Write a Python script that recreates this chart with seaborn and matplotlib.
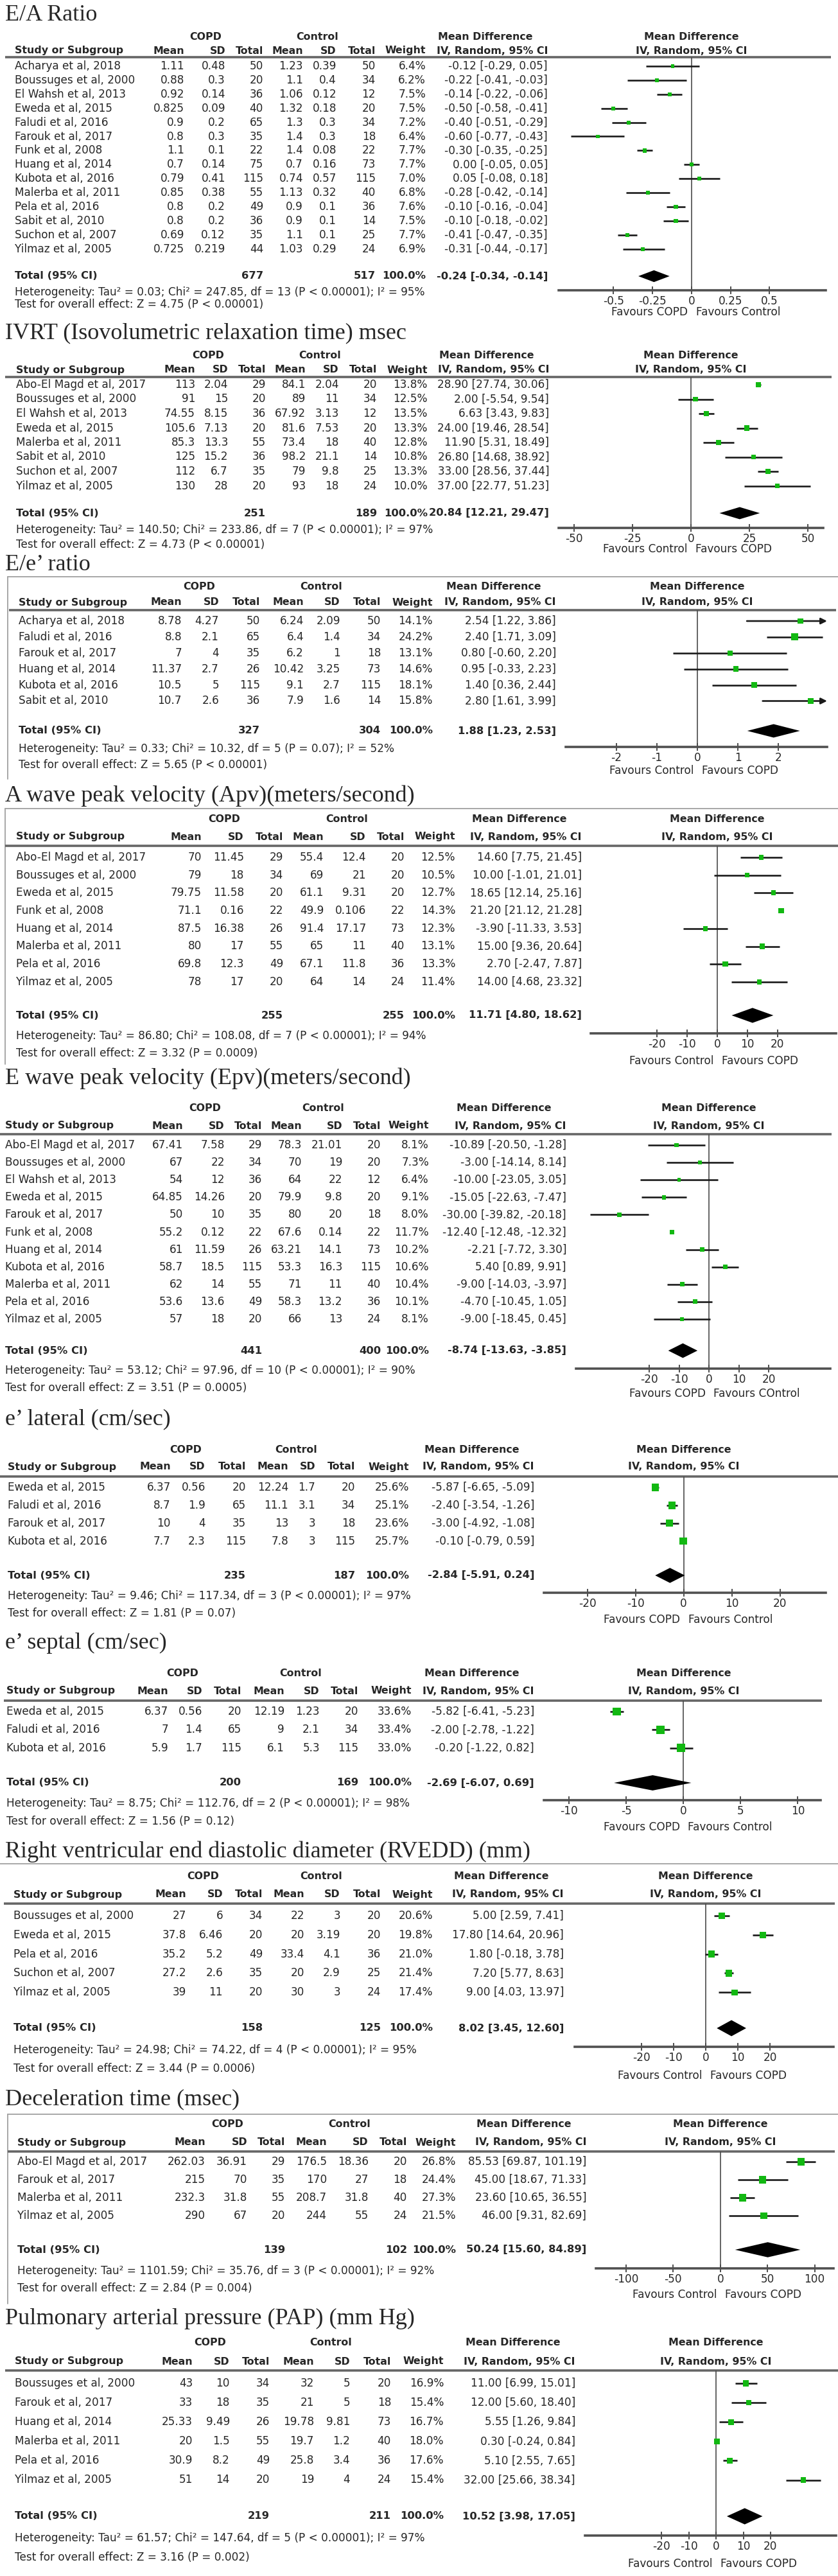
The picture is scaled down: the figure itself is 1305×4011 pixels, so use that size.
import numpy as np
import pandas as pd
import matplotlib
matplotlib.use("Agg")
import matplotlib.pyplot as plt
import seaborn as sns

# ============================ DATA ============================
# ---- E/A ratio ----
EA_TITLE = "E/A Ratio"
EA_STUDY = ["Acharya et al, 2018", "Boussuges et al, 2000", "El Wahsh et al, 2013", "Eweda et al, 2015",
            "Faludi et al, 2016", "Farouk et al, 2017", "Funk et al, 2008", "Huang et al, 2014",
            "Kubota et al, 2016", "Malerba et al, 2011", "Pela et al, 2016", "Sabit et al, 2010",
            "Suchon et al, 2007", "Yilmaz et al, 2005"]
EA_COPD_MEAN = [1.11, 0.88, 0.92, 0.825, 0.9, 0.8, 1.1, 0.7, 0.79, 0.85, 0.8, 0.8, 0.69, 0.725]
EA_COPD_SD = [0.48, 0.3, 0.14, 0.09, 0.2, 0.3, 0.1, 0.14, 0.41, 0.38, 0.2, 0.2, 0.12, 0.219]
EA_COPD_N = [50, 20, 36, 40, 65, 35, 22, 75, 115, 55, 49, 36, 35, 44]
EA_CTRL_MEAN = [1.23, 1.1, 1.06, 1.32, 1.3, 1.4, 1.4, 0.7, 0.74, 1.13, 0.9, 0.9, 1.1, 1.03]
EA_CTRL_SD = [0.39, 0.4, 0.12, 0.18, 0.3, 0.3, 0.08, 0.16, 0.57, 0.32, 0.1, 0.1, 0.1, 0.29]
EA_CTRL_N = [50, 34, 12, 20, 34, 18, 22, 73, 115, 40, 36, 14, 25, 24]
EA_WEIGHT = [6.4, 6.2, 7.5, 7.5, 7.2, 6.4, 7.7, 7.7, 7.0, 6.8, 7.6, 7.5, 7.7, 6.9]
EA_MD = [-0.12, -0.22, -0.14, -0.50, -0.40, -0.60, -0.30, 0.00, 0.05, -0.28, -0.10, -0.10, -0.41, -0.31]
EA_LO = [-0.29, -0.41, -0.22, -0.58, -0.51, -0.77, -0.35, -0.05, -0.08, -0.42, -0.16, -0.18, -0.47, -0.44]
EA_HI = [0.05, -0.03, -0.06, -0.41, -0.29, -0.43, -0.25, 0.05, 0.18, -0.14, -0.04, -0.02, -0.35, -0.17]
EA_TOTAL = [-0.24, -0.34, -0.14]
EA_HET = "Heterogeneity: Tau² = 0.03; Chi² = 247.85, df = 13 (P < 0.00001); I² = 95%"
EA_TEST = "Test for overall effect: Z = 4.75 (P < 0.00001)"
EA_TICKS = [-0.5, -0.25, 0, 0.25, 0.5]
EA_FAVOURS = ["Favours COPD", "Favours Control"]

# ---- IVRT ----
IV_TITLE = "IVRT (Isovolumetric relaxation time) msec"
IV_STUDY = ["Abo-El Magd et al, 2017", "Boussuges et al, 2000", "El Wahsh et al, 2013", "Eweda et al, 2015",
            "Malerba et al, 2011", "Sabit et al, 2010", "Suchon et al, 2007", "Yilmaz et al, 2005"]
IV_COPD_MEAN = [113, 91, 74.55, 105.6, 85.3, 125, 112, 130]
IV_COPD_SD = [2.04, 15, 8.15, 7.13, 13.3, 15.2, 6.7, 28]
IV_COPD_N = [29, 20, 36, 20, 55, 36, 35, 20]
IV_CTRL_MEAN = [84.1, 89, 67.92, 81.6, 73.4, 98.2, 79, 93]
IV_CTRL_SD = [2.04, 11, 3.13, 7.53, 18, 21.1, 9.8, 18]
IV_CTRL_N = [20, 34, 12, 20, 40, 14, 25, 24]
IV_WEIGHT = [13.8, 12.5, 13.5, 13.3, 12.8, 10.8, 13.3, 10.0]
IV_MD = [28.90, 2.00, 6.63, 24.00, 11.90, 26.80, 33.00, 37.00]
IV_LO = [27.74, -5.54, 3.43, 19.46, 5.31, 14.68, 28.56, 22.77]
IV_HI = [30.06, 9.54, 9.83, 28.54, 18.49, 38.92, 37.44, 51.23]
IV_TOTAL = [20.84, 12.21, 29.47]
IV_HET = "Heterogeneity: Tau² = 140.50; Chi² = 233.86, df = 7 (P < 0.00001); I² = 97%"
IV_TEST = "Test for overall effect: Z = 4.73 (P < 0.00001)"
IV_TICKS = [-50, -25, 0, 25, 50]
IV_FAVOURS = ["Favours Control", "Favours COPD"]

# ---- E/e' ratio ----
EE_TITLE = "E/e’ ratio"
EE_STUDY = ["Acharya et al, 2018", "Faludi et al, 2016", "Farouk et al, 2017", "Huang et al, 2014",
            "Kubota et al, 2016", "Sabit et al, 2010"]
EE_COPD_MEAN = [8.78, 8.8, 7, 11.37, 10.5, 10.7]
EE_COPD_SD = [4.27, 2.1, 4, 2.7, 5, 2.6]
EE_COPD_N = [50, 65, 35, 26, 115, 36]
EE_CTRL_MEAN = [6.24, 6.4, 6.2, 10.42, 9.1, 7.9]
EE_CTRL_SD = [2.09, 1.4, 1, 3.25, 2.7, 1.6]
EE_CTRL_N = [50, 34, 18, 73, 115, 14]
EE_WEIGHT = [14.1, 24.2, 13.1, 14.6, 18.1, 15.8]
EE_MD = [2.54, 2.40, 0.80, 0.95, 1.40, 2.80]
EE_LO = [1.22, 1.71, -0.60, -0.33, 0.36, 1.61]
EE_HI = [3.86, 3.09, 2.20, 2.23, 2.44, 3.99]
EE_TOTAL = [1.88, 1.23, 2.53]
EE_HET = "Heterogeneity: Tau² = 0.33; Chi² = 10.32, df = 5 (P = 0.07); I² = 52%"
EE_TEST = "Test for overall effect: Z = 5.65 (P < 0.00001)"
EE_TICKS = [-2, -1, 0, 1, 2]
EE_FAVOURS = ["Favours Control", "Favours COPD"]

# ---- A wave peak velocity ----
AP_TITLE = "A wave peak velocity (Apv)(meters/second)"
AP_STUDY = ["Abo-El Magd et al, 2017", "Boussuges et al, 2000", "Eweda et al, 2015", "Funk et al, 2008",
            "Huang et al, 2014", "Malerba et al, 2011", "Pela et al, 2016", "Yilmaz et al, 2005"]
AP_COPD_MEAN = [70, 79, 79.75, 71.1, 87.5, 80, 69.8, 78]
AP_COPD_SD = [11.45, 18, 11.58, 0.16, 16.38, 17, 12.3, 17]
AP_COPD_N = [29, 34, 20, 22, 26, 55, 49, 20]
AP_CTRL_MEAN = [55.4, 69, 61.1, 49.9, 91.4, 65, 67.1, 64]
AP_CTRL_SD = [12.4, 21, 9.31, 0.106, 17.17, 11, 11.8, 14]
AP_CTRL_N = [20, 20, 20, 22, 73, 40, 36, 24]
AP_WEIGHT = [12.5, 10.5, 12.7, 14.3, 12.3, 13.1, 13.3, 11.4]
AP_MD = [14.60, 10.00, 18.65, 21.20, -3.90, 15.00, 2.70, 14.00]
AP_LO = [7.75, -1.01, 12.14, 21.12, -11.33, 9.36, -2.47, 4.68]
AP_HI = [21.45, 21.01, 25.16, 21.28, 3.53, 20.64, 7.87, 23.32]
AP_TOTAL = [11.71, 4.80, 18.62]
AP_HET = "Heterogeneity: Tau² = 86.80; Chi² = 108.08, df = 7 (P < 0.00001); I² = 94%"
AP_TEST = "Test for overall effect: Z = 3.32 (P = 0.0009)"
AP_TICKS = [-20, -10, 0, 10, 20]
AP_FAVOURS = ["Favours Control", "Favours COPD"]

# ---- E wave peak velocity ----
EP_TITLE = "E wave peak velocity (Epv)(meters/second)"
EP_STUDY = ["Abo-El Magd et al, 2017", "Boussuges et al, 2000", "El Wahsh et al, 2013", "Eweda et al, 2015",
            "Farouk et al, 2017", "Funk et al, 2008", "Huang et al, 2014", "Kubota et al, 2016",
            "Malerba et al, 2011", "Pela et al, 2016", "Yilmaz et al, 2005"]
EP_COPD_MEAN = [67.41, 67, 54, 64.85, 50, 55.2, 61, 58.7, 62, 53.6, 57]
EP_COPD_SD = [7.58, 22, 12, 14.26, 10, 0.12, 11.59, 18.5, 14, 13.6, 18]
EP_COPD_N = [29, 34, 36, 20, 35, 22, 26, 115, 55, 49, 20]
EP_CTRL_MEAN = [78.3, 70, 64, 79.9, 80, 67.6, 63.21, 53.3, 71, 58.3, 66]
EP_CTRL_SD = [21.01, 19, 22, 9.8, 20, 0.14, 14.1, 16.3, 11, 13.2, 13]
EP_CTRL_N = [20, 20, 12, 20, 18, 22, 73, 115, 40, 36, 24]
EP_WEIGHT = [8.1, 7.3, 6.4, 9.1, 8.0, 11.7, 10.2, 10.6, 10.4, 10.1, 8.1]
EP_MD = [-10.89, -3.00, -10.00, -15.05, -30.00, -12.40, -2.21, 5.40, -9.00, -4.70, -9.00]
EP_LO = [-20.50, -14.14, -23.05, -22.63, -39.82, -12.48, -7.72, 0.89, -14.03, -10.45, -18.45]
EP_HI = [-1.28, 8.14, 3.05, -7.47, -20.18, -12.32, 3.30, 9.91, -3.97, 1.05, 0.45]
EP_TOTAL = [-8.74, -13.63, -3.85]
EP_HET = "Heterogeneity: Tau² = 53.12; Chi² = 97.96, df = 10 (P < 0.00001); I² = 90%"
EP_TEST = "Test for overall effect: Z = 3.51 (P = 0.0005)"
EP_TICKS = [-20, -10, 0, 10, 20]
EP_FAVOURS = ["Favours COPD", "Favours COntrol"]

# ---- e' lateral ----
LA_TITLE = "e’ lateral (cm/sec)"
LA_STUDY = ["Eweda et al, 2015", "Faludi et al, 2016", "Farouk et al, 2017", "Kubota et al, 2016"]
LA_COPD_MEAN = [6.37, 8.7, 10, 7.7]
LA_COPD_SD = [0.56, 1.9, 4, 2.3]
LA_COPD_N = [20, 65, 35, 115]
LA_CTRL_MEAN = [12.24, 11.1, 13, 7.8]
LA_CTRL_SD = [1.7, 3.1, 3, 3]
LA_CTRL_N = [20, 34, 18, 115]
LA_WEIGHT = [25.6, 25.1, 23.6, 25.7]
LA_MD = [-5.87, -2.40, -3.00, -0.10]
LA_LO = [-6.65, -3.54, -4.92, -0.79]
LA_HI = [-5.09, -1.26, -1.08, 0.59]
LA_TOTAL = [-2.84, -5.91, 0.24]
LA_HET = "Heterogeneity: Tau² = 9.46; Chi² = 117.34, df = 3 (P < 0.00001); I² = 97%"
LA_TEST = "Test for overall effect: Z = 1.81 (P = 0.07)"
LA_TICKS = [-20, -10, 0, 10, 20]
LA_FAVOURS = ["Favours COPD", "Favours Control"]

# ---- e' septal ----
SE_TITLE = "e’ septal (cm/sec)"
SE_STUDY = ["Eweda et al, 2015", "Faludi et al, 2016", "Kubota et al, 2016"]
SE_COPD_MEAN = [6.37, 7, 5.9]
SE_COPD_SD = [0.56, 1.4, 1.7]
SE_COPD_N = [20, 65, 115]
SE_CTRL_MEAN = [12.19, 9, 6.1]
SE_CTRL_SD = [1.23, 2.1, 5.3]
SE_CTRL_N = [20, 34, 115]
SE_WEIGHT = [33.6, 33.4, 33.0]
SE_MD = [-5.82, -2.00, -0.20]
SE_LO = [-6.41, -2.78, -1.22]
SE_HI = [-5.23, -1.22, 0.82]
SE_TOTAL = [-2.69, -6.07, 0.69]
SE_HET = "Heterogeneity: Tau² = 8.75; Chi² = 112.76, df = 2 (P < 0.00001); I² = 98%"
SE_TEST = "Test for overall effect: Z = 1.56 (P = 0.12)"
SE_TICKS = [-10, -5, 0, 5, 10]
SE_FAVOURS = ["Favours COPD", "Favours Control"]

# ---- RVEDD ----
RV_TITLE = "Right ventricular end diastolic diameter (RVEDD) (mm)"
RV_STUDY = ["Boussuges et al, 2000", "Eweda et al, 2015", "Pela et al, 2016", "Suchon et al, 2007",
            "Yilmaz et al, 2005"]
RV_COPD_MEAN = [27, 37.8, 35.2, 27.2, 39]
RV_COPD_SD = [6, 6.46, 5.2, 2.6, 11]
RV_COPD_N = [34, 20, 49, 35, 20]
RV_CTRL_MEAN = [22, 20, 33.4, 20, 30]
RV_CTRL_SD = [3, 3.19, 4.1, 2.9, 3]
RV_CTRL_N = [20, 20, 36, 25, 24]
RV_WEIGHT = [20.6, 19.8, 21.0, 21.4, 17.4]
RV_MD = [5.00, 17.80, 1.80, 7.20, 9.00]
RV_LO = [2.59, 14.64, -0.18, 5.77, 4.03]
RV_HI = [7.41, 20.96, 3.78, 8.63, 13.97]
RV_TOTAL = [8.02, 3.45, 12.60]
RV_HET = "Heterogeneity: Tau² = 24.98; Chi² = 74.22, df = 4 (P < 0.00001); I² = 95%"
RV_TEST = "Test for overall effect: Z = 3.44 (P = 0.0006)"
RV_TICKS = [-20, -10, 0, 10, 20]
RV_FAVOURS = ["Favours Control", "Favours COPD"]

# ---- Deceleration time ----
DT_TITLE = "Deceleration time (msec)"
DT_STUDY = ["Abo-El Magd et al, 2017", "Farouk et al, 2017", "Malerba et al, 2011", "Yilmaz et al, 2005"]
DT_COPD_MEAN = [262.03, 215, 232.3, 290]
DT_COPD_SD = [36.91, 70, 31.8, 67]
DT_COPD_N = [29, 35, 55, 20]
DT_CTRL_MEAN = [176.5, 170, 208.7, 244]
DT_CTRL_SD = [18.36, 27, 31.8, 55]
DT_CTRL_N = [20, 18, 40, 24]
DT_WEIGHT = [26.8, 24.4, 27.3, 21.5]
DT_MD = [85.53, 45.00, 23.60, 46.00]
DT_LO = [69.87, 18.67, 10.65, 9.31]
DT_HI = [101.19, 71.33, 36.55, 82.69]
DT_TOTAL = [50.24, 15.60, 84.89]
DT_HET = "Heterogeneity: Tau² = 1101.59; Chi² = 35.76, df = 3 (P < 0.00001); I² = 92%"
DT_TEST = "Test for overall effect: Z = 2.84 (P = 0.004)"
DT_TICKS = [-100, -50, 0, 50, 100]
DT_FAVOURS = ["Favours Control", "Favours COPD"]

# ---- PAP ----
PA_TITLE = "Pulmonary arterial pressure (PAP) (mm Hg)"
PA_STUDY = ["Boussuges et al, 2000", "Farouk et al, 2017", "Huang et al, 2014", "Malerba et al, 2011",
            "Pela et al, 2016", "Yilmaz et al, 2005"]
PA_COPD_MEAN = [43, 33, 25.33, 20, 30.9, 51]
PA_COPD_SD = [10, 18, 9.49, 1.5, 8.2, 14]
PA_COPD_N = [34, 35, 26, 55, 49, 20]
PA_CTRL_MEAN = [32, 21, 19.78, 19.7, 25.8, 19]
PA_CTRL_SD = [5, 5, 9.81, 1.2, 3.4, 4]
PA_CTRL_N = [20, 18, 73, 40, 36, 24]
PA_WEIGHT = [16.9, 15.4, 16.7, 18.0, 17.6, 15.4]
PA_MD = [11.00, 12.00, 5.55, 0.30, 5.10, 32.00]
PA_LO = [6.99, 5.60, 1.26, -0.24, 2.55, 25.66]
PA_HI = [15.01, 18.40, 9.84, 0.84, 7.65, 38.34]
PA_TOTAL = [10.52, 3.98, 17.05]
PA_HET = "Heterogeneity: Tau² = 61.57; Chi² = 147.64, df = 5 (P < 0.00001); I² = 97%"
PA_TEST = "Test for overall effect: Z = 3.16 (P = 0.002)"
PA_TICKS = [-20, -10, 0, 10, 20]
PA_FAVOURS = ["Favours Control", "Favours COPD"]


def panel(title, study, cm, cs, cn, km, ks, kn, w, md, lo, hi, total, het, test, ticks, fav):
    return dict(title=title, study=study, cm=cm, cs=cs, cn=cn, km=km, ks=ks, kn=kn, w=w,
                md=md, lo=lo, hi=hi, total=total, het=het, test=test, ticks=ticks, fav=fav)


PANELS = [
    panel(EA_TITLE, EA_STUDY, EA_COPD_MEAN, EA_COPD_SD, EA_COPD_N, EA_CTRL_MEAN, EA_CTRL_SD, EA_CTRL_N,
          EA_WEIGHT, EA_MD, EA_LO, EA_HI, EA_TOTAL, EA_HET, EA_TEST, EA_TICKS, EA_FAVOURS),
    panel(IV_TITLE, IV_STUDY, IV_COPD_MEAN, IV_COPD_SD, IV_COPD_N, IV_CTRL_MEAN, IV_CTRL_SD, IV_CTRL_N,
          IV_WEIGHT, IV_MD, IV_LO, IV_HI, IV_TOTAL, IV_HET, IV_TEST, IV_TICKS, IV_FAVOURS),
    panel(EE_TITLE, EE_STUDY, EE_COPD_MEAN, EE_COPD_SD, EE_COPD_N, EE_CTRL_MEAN, EE_CTRL_SD, EE_CTRL_N,
          EE_WEIGHT, EE_MD, EE_LO, EE_HI, EE_TOTAL, EE_HET, EE_TEST, EE_TICKS, EE_FAVOURS),
    panel(AP_TITLE, AP_STUDY, AP_COPD_MEAN, AP_COPD_SD, AP_COPD_N, AP_CTRL_MEAN, AP_CTRL_SD, AP_CTRL_N,
          AP_WEIGHT, AP_MD, AP_LO, AP_HI, AP_TOTAL, AP_HET, AP_TEST, AP_TICKS, AP_FAVOURS),
    panel(EP_TITLE, EP_STUDY, EP_COPD_MEAN, EP_COPD_SD, EP_COPD_N, EP_CTRL_MEAN, EP_CTRL_SD, EP_CTRL_N,
          EP_WEIGHT, EP_MD, EP_LO, EP_HI, EP_TOTAL, EP_HET, EP_TEST, EP_TICKS, EP_FAVOURS),
    panel(LA_TITLE, LA_STUDY, LA_COPD_MEAN, LA_COPD_SD, LA_COPD_N, LA_CTRL_MEAN, LA_CTRL_SD, LA_CTRL_N,
          LA_WEIGHT, LA_MD, LA_LO, LA_HI, LA_TOTAL, LA_HET, LA_TEST, LA_TICKS, LA_FAVOURS),
    panel(SE_TITLE, SE_STUDY, SE_COPD_MEAN, SE_COPD_SD, SE_COPD_N, SE_CTRL_MEAN, SE_CTRL_SD, SE_CTRL_N,
          SE_WEIGHT, SE_MD, SE_LO, SE_HI, SE_TOTAL, SE_HET, SE_TEST, SE_TICKS, SE_FAVOURS),
    panel(RV_TITLE, RV_STUDY, RV_COPD_MEAN, RV_COPD_SD, RV_COPD_N, RV_CTRL_MEAN, RV_CTRL_SD, RV_CTRL_N,
          RV_WEIGHT, RV_MD, RV_LO, RV_HI, RV_TOTAL, RV_HET, RV_TEST, RV_TICKS, RV_FAVOURS),
    panel(DT_TITLE, DT_STUDY, DT_COPD_MEAN, DT_COPD_SD, DT_COPD_N, DT_CTRL_MEAN, DT_CTRL_SD, DT_CTRL_N,
          DT_WEIGHT, DT_MD, DT_LO, DT_HI, DT_TOTAL, DT_HET, DT_TEST, DT_TICKS, DT_FAVOURS),
    panel(PA_TITLE, PA_STUDY, PA_COPD_MEAN, PA_COPD_SD, PA_COPD_N, PA_CTRL_MEAN, PA_CTRL_SD, PA_CTRL_N,
          PA_WEIGHT, PA_MD, PA_LO, PA_HI, PA_TOTAL, PA_HET, PA_TEST, PA_TICKS, PA_FAVOURS),
]

# ============================ LAYOUT (pixels) ============================
LAYOUTS = [
    dict(title=32, h1=57, h2=79, line=89, lx=(8, 1294), r0=103, dr=21.9, tot=430, het=455, test=474,
         axis=452, fav=486, study=23, m1=287, s1=351, n1=410, m2=472, s2=524, n2=585, w=663, ci=853,
         ax=(870, 1286), xlim=(-0.85, 0.86), box=None),
    dict(title=527, h1=553, h2=576, line=587, lx=(8, 1295), r0=599, dr=22.5, tot=799, het=825, test=848,
         axis=822, fav=855, study=25, m1=304, s1=355, n1=414, m2=476, s2=528, n2=587, w=666, ci=855,
         ax=(870, 1282), xlim=(-56.6, 56.6), box=None),
    dict(title=888, h1=913, h2=938, line=950, lx=(14, 1302), r0=967, dr=24.9, tot=1138, het=1166, test=1191,
         axis=1163, fav=1200, study=29, m1=283, s1=341, n1=405, m2=473, s2=530, n2=593, w=674, ci=866,
         ax=(881, 1288), xlim=(-3.25, 3.2), box=(12, 898, 1213)),
    dict(title=1248, h1=1275, h2=1303, line=1317, lx=(8, 1305), r0=1335, dr=27.7, tot=1581, het=1613,
         test=1640, axis=1609, fav=1652, study=25, m1=314, s1=380, n1=441, m2=504, s2=570, n2=630, w=709,
         ci=906, ax=(920, 1302), xlim=(-41.9, 39.4), box=(8, 1259, 1657)),
    dict(title=1688, h1=1726, h2=1753, line=1766, lx=(0, 1295), r0=1783, dr=27.1, tot=2103, het=2134,
         test=2161, axis=2131, fav=2170, study=8, m1=285, s1=350, n1=408, m2=470, s2=533, n2=593, w=668,
         ci=882, ax=(897, 1293), xlim=(-44.5, 40.6), box=None),
    dict(title=2218, h1=2257, h2=2284, line=2299, lx=(0, 1305), r0=2316, dr=27.9, tot=2453, het=2485,
         test=2512, axis=2480, fav=2522, study=12, m1=266, s1=320, n1=383, m2=449, s2=491, n2=553, w=637,
         ci=832, ax=(847, 1286), xlim=(-29, 29.5), box=None),
    dict(title=2567, h1=2605, h2=2633, line=2648, lx=(6, 1280), r0=2665, dr=28.3, tot=2776, het=2808,
         test=2836, axis=2803, fav=2845, study=10, m1=262, s1=315, n1=376, m2=443, s2=498, n2=558, w=641,
         ci=832, ax=(847, 1278), xlim=(-12.2, 12.0), box=None),
    dict(title=2892, h1=2921, h2=2950, line=2964, lx=(6, 1300), r0=2983, dr=29.8, tot=3158, het=3192,
         test=3221, axis=3187, fav=3232, study=21, m1=290, s1=347, n1=409, m2=474, s2=530, n2=593, w=674,
         ci=878, ax=(895, 1298), xlim=(-40.8, 39.8), box=(None, 2902, None)),
    dict(title=3277, h1=3308, h2=3336, line=3350, lx=(12, 1300), r0=3366, dr=28.0, tot=3503, het=3536,
         test=3563, axis=3532, fav=3573, study=27, m1=320, s1=385, n1=444, m2=509, s2=574, n2=634, w=710,
         ci=913, ax=(928, 1298), xlim=(-132, 120), box=(12, 3292, 3587)),
    dict(title=3619, h1=3647, h2=3677, line=3691, lx=(8, 1305), r0=3711, dr=30.1, tot=3918, het=3952,
         test=3982, axis=3948, fav=3992, study=23, m1=300, s1=358, n1=420, m2=489, s2=545, n2=609, w=691,
         ci=896, ax=(911, 1302), xlim=(-48, 44), box=None),
]

W, H = 1305, 4011
GREEN = "#12b812"
FS = 12.2
FSB = 11.4
K_SIZE = 2.6

sns.set_theme(style="white")
plt.rcParams["font.family"] = ["DejaVu Sans"]
plt.rcParams["axes.unicode_minus"] = False

fig = plt.figure(figsize=(W / 100, H / 100), dpi=100, facecolor="white")
axo = fig.add_axes([0, 0, 1, 1])
axo.set_xlim(0, W)
axo.set_ylim(H, 0)
axo.axis("off")


def ci_text(m, l, h):
    return f"{m:.2f} [{l:.2f}, {h:.2f}]"


def draw(d, L):
    bold = dict(fontsize=FSB, fontweight="bold", va="center")
    norm = dict(fontsize=FS, va="center")
    # title
    axo.text(8, L["title"], d["title"], family=["Liberation Serif", "DejaVu Serif"], fontsize=26,
             ha="left", va="baseline")
    # window frame lines
    if L["box"] is not None:
        bx, by, bb = L["box"]
        axo.plot([bx if bx is not None else 0, W], [by, by], color="#a0a0a0", lw=1.3)
        if bx is not None:
            axo.plot([bx, bx], [by, bb], color="#a0a0a0", lw=1.3)
    # headers
    axo.text(L["s1"] - 31, L["h1"], "COPD", ha="center", **bold)
    axo.text(L["s2"] - 30, L["h1"], "Control", ha="center", **bold)
    axo.text(L["ci"] - 97, L["h1"], "Mean Difference", ha="center", **bold)
    axo.text(L["study"], L["h2"], "Study or Subgroup", ha="left", **bold)
    for key, lab in [("m1", "Mean"), ("s1", "SD"), ("n1", "Total"), ("m2", "Mean"), ("s2", "SD"),
                     ("n2", "Total"), ("w", "Weight"), ("ci", "IV, Random, 95% CI")]:
        axo.text(L[key], L["h2"], lab, ha="right", **bold)
    axo.plot(list(L["lx"]), [L["line"], L["line"]], color="#666666", lw=2.6, solid_capstyle="butt")

    # study rows
    n = len(d["study"])
    ys = L["r0"] + L["dr"] * np.arange(n)
    for i in range(n):
        y = ys[i]
        axo.text(L["study"], y, d["study"][i], ha="left", **norm)
        axo.text(L["m1"], y, f"{d['cm'][i]:g}", ha="right", **norm)
        axo.text(L["s1"], y, f"{d['cs'][i]:g}", ha="right", **norm)
        axo.text(L["n1"], y, f"{d['cn'][i]:g}", ha="right", **norm)
        axo.text(L["m2"], y, f"{d['km'][i]:g}", ha="right", **norm)
        axo.text(L["s2"], y, f"{d['ks'][i]:g}", ha="right", **norm)
        axo.text(L["n2"], y, f"{d['kn'][i]:g}", ha="right", **norm)
        axo.text(L["w"], y, f"{d['w'][i]:.1f}%", ha="right", **norm)
        axo.text(L["ci"], y, ci_text(d["md"][i], d["lo"][i], d["hi"][i]), ha="right", **norm)
    # total row
    tb = dict(fontsize=FS - 0.4, fontweight="bold", va="center")
    axo.text(L["study"], L["tot"], "Total (95% CI)", ha="left", **tb)
    axo.text(L["n1"], L["tot"], f"{sum(d['cn'])}", ha="right", **tb)
    axo.text(L["n2"], L["tot"], f"{sum(d['kn'])}", ha="right", **tb)
    axo.text(L["w"], L["tot"], "100.0%", ha="right", **tb)
    axo.text(L["ci"], L["tot"], ci_text(*d["total"]), ha="right", **tb)
    axo.text(L["study"], L["het"], d["het"], ha="left", **norm)
    axo.text(L["study"], L["test"], d["test"], ha="left", **norm)

    # forest plot axes
    x0, x1 = L["ax"]
    axf = fig.add_axes([x0 / W, 1 - L["axis"] / H, (x1 - x0) / W, (L["axis"] - L["line"]) / H])
    axf.patch.set_alpha(0)
    xmin, xmax = L["xlim"]
    idx = np.arange(n)
    md = np.array(d["md"], float)
    lo = np.array(d["lo"], float)
    hi = np.array(d["hi"], float)
    wt = np.array(d["w"], float)

    axf.axvline(0, color="#4a4a4a", lw=1.2, zorder=1)
    inside = hi <= xmax
    axf.hlines(idx[inside], lo[inside], hi[inside], color="#1a1a1a", lw=1.9, zorder=2)
    for i in idx[~inside]:
        axf.annotate("", xy=(xmax, i), xytext=(lo[i], i),
                     arrowprops=dict(arrowstyle="-|>", color="#1a1a1a", lw=1.9,
                                     shrinkA=0, shrinkB=0, mutation_scale=14), zorder=2)
    df = pd.DataFrame({"md": md, "row": idx, "weight": wt})
    sns.scatterplot(data=df, x="md", y="row", size="weight",
                    sizes=(K_SIZE * wt.min(), K_SIZE * wt.max()), size_norm=(wt.min(), wt.max()),
                    marker="s", color=GREEN, linewidth=0, legend=False, ax=axf, zorder=3)
    yt = (L["tot"] - L["r0"]) / L["dr"]
    tm, tl, th = d["total"]
    axf.fill([tl, tm, th, tm], [yt, yt - 0.42, yt, yt + 0.42], color="black", zorder=3, lw=0)

    axf.set_xlim(xmin, xmax)
    axf.set_ylim((L["axis"] - L["r0"]) / L["dr"], (L["line"] - L["r0"]) / L["dr"])
    axf.set_xlabel("")
    axf.set_ylabel("")
    axf.set_yticks([])
    axf.set_xticks(d["ticks"], labels=[f"{t:g}" for t in d["ticks"]])
    for s in ("top", "left", "right"):
        axf.spines[s].set_visible(False)
    axf.spines["bottom"].set_color("#505050")
    axf.spines["bottom"].set_linewidth(2.6)
    axf.tick_params(axis="x", direction="inout", length=9, width=1.3, color="#404040",
                    labelsize=FS, pad=1, bottom=True)
    axf.grid(False)

    # forest header + favours labels (x = 0 in the forest's data space)
    coords = (axf.transData, axo.transData)
    axo.annotate("Mean Difference", xy=(0, L["h1"]), xycoords=coords, ha="center", **bold)
    axo.annotate("IV, Random, 95% CI", xy=(0, L["h2"]), xycoords=coords, ha="center", **bold)
    axo.annotate(d["fav"][0], xy=(0, L["fav"]), xycoords=coords, xytext=(-4, 0),
                 textcoords="offset points", ha="right", **norm)
    axo.annotate(d["fav"][1], xy=(0, L["fav"]), xycoords=coords, xytext=(5, 0),
                 textcoords="offset points", ha="left", **norm)


for d, L in zip(PANELS, LAYOUTS):
    draw(d, L)

fig.savefig("out.png", dpi=100, facecolor="white")
